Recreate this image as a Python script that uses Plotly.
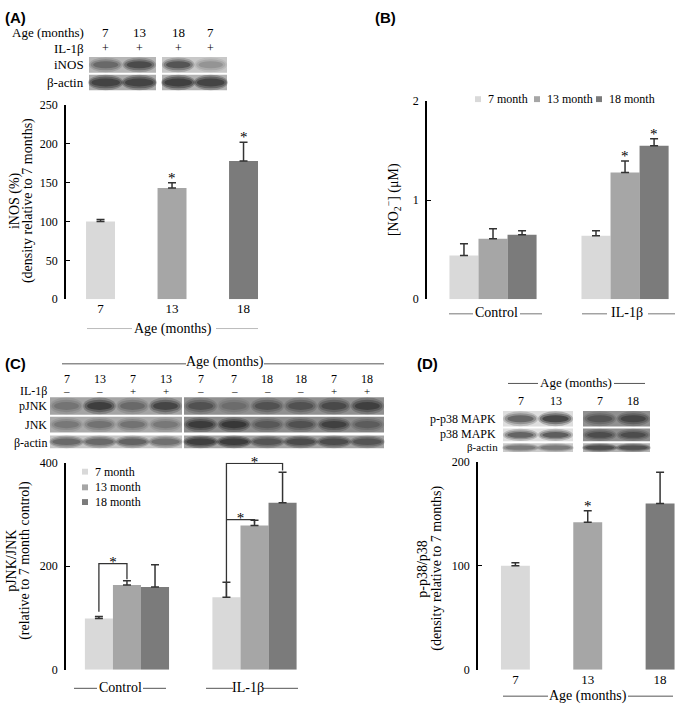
import plotly.graph_objects as go

W, H = 676, 711
def X(px): return px / W
def Y(py): return 1 - py / H

SERIF = "Liberation Serif"
SANS = "Liberation Sans"
COLORS = ["#d9d9d9", "#a6a6a6", "#7b7b7b"]
ERRC = "#333333"

# ---------------- data ----------------
# Panel A
a_ages = ["7", "13", "18"]
a_inos = [100, 143, 178]
a_inos_err = [2.5, 7, 24]
a_sig = ["", "*", "*"]

# Panel B
groups = ["Control", "IL-1β"]
series = ["7 month", "13 month", "18 month"]
b_7 = [0.44, 0.64]
b_13 = [0.61, 1.28]
b_18 = [0.65, 1.55]
b_7_err = [0.12, 0.05]
b_13_err = [0.10, 0.115]
b_18_err = [0.04, 0.07]
b_13_sig = ["", "*"]
b_18_sig = ["", "*"]

# Panel C
c_7 = [99, 140]
c_13 = [164, 279]
c_18 = [160, 323]
c_7_err = [4, 29]
c_13_err = [8, 10]
c_18_err = [43, 59]
# (group, from series, to series, top, left bottom, right bottom)
c_brackets = [(0, 0, 1, 205, 112, 175), (1, 0, 1, 290, 290, 283), (1, 0, 2, 399, 140, 385)]

# Panel D
d_ages = ["7", "13", "18"]
d_p38 = [100, 142, 160]
d_p38_err = [3, 11, 30]
d_sig = ["", "*", ""]

# Blots (relative band intensity per lane)
a_lane_ages = ["7", "13", "18", "7"]
a_lane_il1b = ["+", "+", "+", "+"]
a_inos_band = [0.55, 0.85, 0.8, 0.3]
a_actin_band = [0.85, 0.85, 0.9, 0.85]

c_lane_ages = ["7", "13", "7", "13", "7", "7", "18", "18", "7", "18"]
c_lane_il1b = ["–", "–", "+", "+", "–", "–", "–", "–", "+", "+"]
c_pjnk_band = [0.35, 0.95, 0.45, 0.85, 0.6, 0.3, 0.6, 0.6, 0.7, 0.85]
c_jnk_band = [0.35, 0.4, 0.4, 0.35, 0.9, 0.95, 0.5, 0.6, 0.8, 0.45]
c_actin_band = [0.55, 0.55, 0.6, 0.5, 0.85, 0.9, 0.6, 0.7, 0.7, 0.6]

d_lane_ages = ["7", "13", "7", "18"]
d_pp38_band = [0.7, 1.0, 0.55, 0.75]
d_p38_band = [0.75, 0.8, 0.65, 0.65]
d_actin_band = [0.45, 0.45, 0.75, 0.7]

BARGAP = 0.34
W3 = (1 - BARGAP) / 3
c_pos = list(range(len(groups)))  # numeric group positions for panel C

fig = go.Figure()
def err(arr):
    return dict(type="data", array=arr, arrayminus=[0] * len(arr), symmetric=False,
                color=ERRC, thickness=1.5, width=4)

# Panel A bars
fig.add_trace(go.Bar(x=a_ages, y=a_inos, marker=dict(color=COLORS, line=dict(width=0)), width=0.405,
                     error_y=err(a_inos_err), xaxis="x", yaxis="y", showlegend=False))
# Panel B bars
for vals, e, col, name in zip([b_7, b_13, b_18], [b_7_err, b_13_err, b_18_err], COLORS, series):
    fig.add_trace(go.Bar(x=groups, y=vals, name=name, marker=dict(color=col, line=dict(width=0)),
                         error_y=err(e), xaxis="x2", yaxis="y2", showlegend=False))
# Panel C bars
for vals, e, col, name in zip([c_7, c_13, c_18], [c_7_err, c_13_err, c_18_err], COLORS, series):
    fig.add_trace(go.Bar(x=c_pos, y=vals, name=name, marker=dict(color=col, line=dict(width=0)),
                         error_y=err(e), xaxis="x3", yaxis="y3", showlegend=False))
# Panel C significance brackets (drawn as line traces on the same axes)
for g, s0, s1, top, lb, rb in c_brackets:
    xl = c_pos[g] + (s0 - 1) * W3
    xr = c_pos[g] + (s1 - 1) * W3
    fig.add_trace(go.Scatter(x=[xl, xl, xr, xr], y=[lb, top, top, rb], mode="lines",
                             line=dict(color="#333333", width=1.3), xaxis="x3", yaxis="y3",
                             showlegend=False, hoverinfo="skip", cliponaxis=False))
    fig.add_trace(go.Scatter(x=[(xl + xr) / 2], y=[top], mode="text", text=["*"], textposition="middle center",
                             textfont=dict(family=SERIF, size=15, color="black"), xaxis="x3", yaxis="y3",
                             showlegend=False, hoverinfo="skip", cliponaxis=False))
# Panel D bars
fig.add_trace(go.Bar(x=d_ages, y=d_p38, marker=dict(color=COLORS, line=dict(width=0)), width=0.40,
                     error_y=err(d_p38_err), xaxis="x4", yaxis="y4", showlegend=False))

shapes, ann = [], []

def text(x, y, s, size=13, xanchor="center", font=SERIF, bold=False, angle=0):
    ann.append(dict(x=X(x), y=Y(y), xref="paper", yref="paper", text=("<b>%s</b>" % s) if bold else s,
                    showarrow=False, xanchor=xanchor, yanchor="middle", textangle=angle,
                    font=dict(family=font, size=size, color="black")))

def star(x, y, xref, yref, shift=5):
    ann.append(dict(x=x, y=y, xref=xref, yref=yref, text="*", showarrow=False,
                    yanchor="middle", yshift=shift, font=dict(family=SERIF, size=15, color="black")))

def hline(x0, x1, y, color="#999999", w=1):
    shapes.append(dict(type="line", xref="paper", yref="paper", x0=X(x0), x1=X(x1), y0=Y(y), y1=Y(y),
                       line=dict(color=color, width=w)))

def blot_row(x0, x1, y0, y1, bands, bg, wide=False):
    shapes.append(dict(type="rect", xref="paper", yref="paper", x0=X(x0), x1=X(x1), y0=Y(y1), y1=Y(y0),
                       fillcolor=bg, line=dict(width=0), layer="below"))
    n = len(bands)
    lw = (x1 - x0) / n
    layers = [(1.0, 0.95, 0.25), (0.9, 0.7, 0.35), (0.75, 0.45, 0.5)]
    if wide:
        layers = [(1.05, 1.0, 0.3), (0.98, 0.75, 0.4), (0.85, 0.5, 0.5)]
    for i, b in enumerate(bands):
        cx = x0 + lw * (i + 0.5)
        cy = (y0 + y1) / 2
        for fx, fy, op in layers:
            hw, hh = lw * fx / 2, (y1 - y0) * fy / 2
            shapes.append(dict(type="circle", xref="paper", yref="paper",
                               x0=X(cx - hw), x1=X(cx + hw), y0=Y(cy + hh), y1=Y(cy - hh),
                               fillcolor="#1a1a1a", opacity=b * op, line=dict(width=0), layer="below"))

def lane_centers(blocks):
    out = []
    for x0, x1, n in blocks:
        lw = (x1 - x0) / n
        out += [x0 + lw * (i + 0.5) for i in range(n)]
    return out

# ---------------- Panel A ----------------
text(3, 11, "(A)", size=15, xanchor="left", font=SANS, bold=True)
text(86, 26, "Age (months)", xanchor="right")
text(86, 42, "IL-1β", xanchor="right")
text(86, 59, "iNOS", xanchor="right")
text(86, 77, "β-actin", xanchor="right")
a_blocks = [(89, 156, 2), (162, 227, 2)]
for xc, ag, s in zip(lane_centers(a_blocks), a_lane_ages, a_lane_il1b):
    text(xc, 26, ag)
    text(xc, 42, s, size=12)
blot_row(89, 156, 51, 67, a_inos_band[:2], "#b6b6b6")
blot_row(162, 227, 51, 67, a_inos_band[2:], "#c8c8c8")
blot_row(89, 156, 69, 85, a_actin_band[:2], "#ababab", wide=True)
blot_row(162, 227, 69, 85, a_actin_band[2:], "#b2b2b2", wide=True)

text(15, 198, "iNOS (%)", size=14, angle=-90)
text(28, 198, "(density relative to 7 months)", size=14, angle=-90)
text(173, 328, "Age (months)", size=14)
hline(87, 132, 328, "#bbbbbb")
hline(216, 258, 328, "#bbbbbb")
for i, s in enumerate(a_sig):
    if s:
        star(i, a_inos[i] + a_inos_err[i], "x", "y")

# ---------------- Panel B ----------------
text(373, 11, "(B)", size=15, xanchor="left", font=SANS, bold=True)
for xm, name, col in zip([478, 537, 599], series, COLORS):
    shapes.append(dict(type="rect", xref="paper", yref="paper", x0=X(xm - 3), x1=X(xm + 3),
                       y0=Y(97), y1=Y(91), fillcolor=col, line=dict(width=0)))
    text(xm + 8, 94, name, size=12, xanchor="left")
text(393, 197, "[NO<sub>2</sub><sup>−</sup>] (μM)", size=14, angle=-90)
for xc, g in zip([496, 627], groups):
    text(xc, 312, g, size=14)
hline(449, 473, 313, "#777777")
hline(520, 542, 313, "#777777")
hline(582, 607, 313, "#777777")
hline(648, 675, 313, "#777777")
for k, (vals, e, sig) in [(1, (b_13, b_13_err, b_13_sig)), (2, (b_18, b_18_err, b_18_sig))]:
    for i, s in enumerate(sig):
        if s:
            star(i + (k - 1) * W3, vals[i] + e[i], "x2", "y2")

# ---------------- Panel C ----------------
text(3, 364, "(C)", size=15, xanchor="left", font=SANS, bold=True)
text(225, 362, "Age (months)", size=14)
hline(62, 186, 364, "#555555")
hline(264, 384, 364, "#555555")
text(49, 392, "IL-1β", size=12, xanchor="right")
text(49, 407, "pJNK", size=12, xanchor="right")
text(49, 426, "JNK", size=12, xanchor="right")
text(49, 445, "β-actin", size=12, xanchor="right")
c_blocks = [(50, 182, 4), (184, 384, 6)]
for xc, ag, s in zip(lane_centers(c_blocks), c_lane_ages, c_lane_il1b):
    text(xc, 379, ag, size=12)
    text(xc, 392, s, size=11)
blot_row(50, 182, 398, 416, c_pjnk_band[:4], "#a4a4a4")
blot_row(184, 384, 398, 416, c_pjnk_band[4:], "#909090")
blot_row(50, 182, 418, 434, c_jnk_band[:4], "#aaaaaa")
blot_row(184, 384, 418, 434, c_jnk_band[4:], "#8c8c8c")
blot_row(50, 182, 437, 450, c_actin_band[:4], "#c4c4c4", wide=True)
blot_row(184, 384, 437, 450, c_actin_band[4:], "#a2a2a2", wide=True)

text(12, 565, "pJNK/JNK", size=14, angle=-90)
text(25, 565, "(relative to 7 month control)", size=14, angle=-90)
for ym, name, col in zip([474, 490, 505], series, COLORS):
    shapes.append(dict(type="rect", xref="paper", yref="paper", x0=X(82), x1=X(88),
                       y0=Y(ym + 3), y1=Y(ym - 3), fillcolor=col, line=dict(width=0)))
    text(93, ym, name, size=12, xanchor="left")
for xc, g in zip([120, 248], groups):
    text(xc, 694, g, size=14)
hline(74, 97, 695, "#555555")
hline(143, 166, 695, "#555555")
hline(206, 233, 695, "#555555")
hline(263, 298, 695, "#555555")

# ---------------- Panel D ----------------
text(415, 364, "(D)", size=15, xanchor="left", font=SANS, bold=True)
text(576, 383, "Age (months)", size=13)
hline(508, 538, 384, "#555555")
hline(614, 645, 384, "#555555")
d_blocks = [(503, 573, 2), (583, 650, 2)]
for xc, ag in zip(lane_centers(d_blocks), d_lane_ages):
    text(xc, 402, ag, size=12)
text(498, 420, "p-p38 MAPK", size=12, xanchor="right")
text(498, 436, "p38 MAPK", size=12, xanchor="right")
text(500, 449, "β-actin", size=11, xanchor="right")
blot_row(503, 573, 412, 428, d_pp38_band[:2], "#dedede")
blot_row(583, 650, 412, 428, d_pp38_band[2:], "#909090")
blot_row(503, 573, 430, 443, d_p38_band[:2], "#e0e0e0")
blot_row(583, 650, 430, 443, d_p38_band[2:], "#8e8e8e")
blot_row(503, 573, 445, 454, d_actin_band[:2], "#cccccc", wide=True)
blot_row(583, 650, 445, 454, d_actin_band[2:], "#b4b4b4", wide=True)
text(423, 573, "p-p38/p38", size=14, angle=-90)
text(437, 573, "(density relative to 7 months)", size=14, angle=-90)
text(588, 703, "Age (months)", size=14)
hline(503, 548, 703, "#555555")
hline(628, 673, 703, "#555555")
for i, s in enumerate(d_sig):
    if s:
        star(i, d_p38[i] + d_p38_err[i], "x4", "y4")

yax = dict(showline=True, linecolor="black", linewidth=1.6, ticks="inside", ticklen=4, tickwidth=1.4,
           tickcolor="black", showgrid=False, zeroline=False, tickfont=dict(family=SERIF, size=12, color="black"),
           ticklabelstandoff=4)
xax = dict(showline=False, ticks="", showgrid=False, zeroline=False, type="category",
           tickfont=dict(family=SERIF, size=13, color="black"))

fig.update_layout(
    width=W, height=H, margin=dict(l=0, r=0, t=0, b=0), autosize=False,
    paper_bgcolor="white", plot_bgcolor="rgba(0,0,0,0)",
    barmode="group", bargap=BARGAP, bargroupgap=0, showlegend=False,
    font=dict(family=SERIF, color="black"),
    xaxis=dict(xax, domain=[X(66), X(290)], range=[-0.483, 2.65], anchor="y"),
    yaxis=dict(yax, domain=[Y(298), Y(100)], range=[0, 250], tickvals=[0, 50, 100, 150, 200, 250], anchor="x"),
    xaxis2=dict(xax, domain=[X(427), 1.0], range=[-0.5, 1.386], anchor="y2", showticklabels=False),
    yaxis2=dict(yax, domain=[Y(298), Y(96)], range=[0, 2], tickvals=[0, 1, 2], anchor="x2"),
    xaxis3=dict(xax, type="linear", domain=[X(66), X(330)], range=[-0.478, 1.592], anchor="y3",
                tickvals=c_pos, ticktext=groups, showticklabels=False),
    yaxis3=dict(yax, domain=[Y(676), Y(465)], range=[0, 400], tickvals=[0, 200, 400], anchor="x3"),
    xaxis4=dict(xax, domain=[X(478), 1.0], range=[-0.517, 2.22], anchor="y4"),
    yaxis4=dict(yax, domain=[Y(676), Y(464)], range=[0, 200], tickvals=[0, 100, 200], anchor="x4"),
    shapes=shapes, annotations=ann,
)
fig.write_html("out.html", config={"displayModeBar": False},
               post_script="document.body.style.margin='0px';document.body.style.overflow='hidden';")
